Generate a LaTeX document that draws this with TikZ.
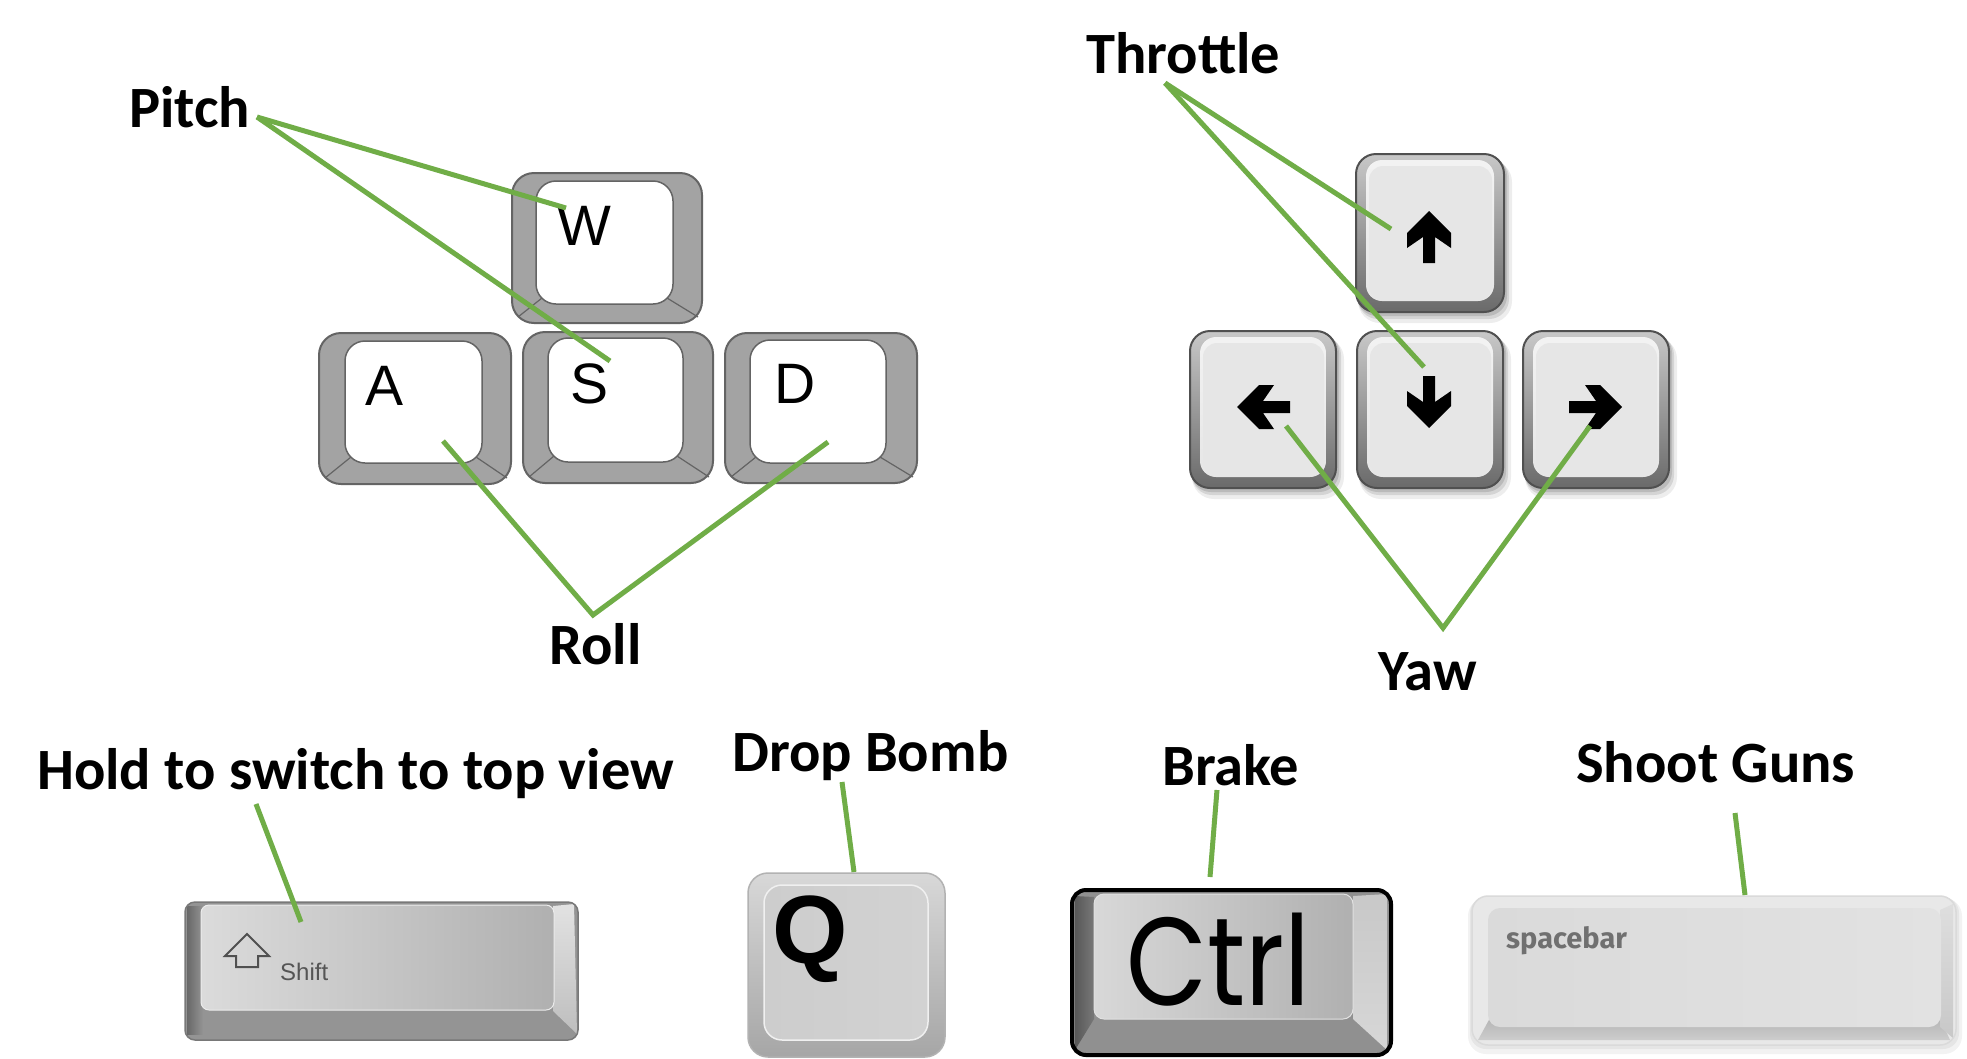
\documentclass[tikz,border=0pt]{standalone}
\usepackage{fontspec}
\setmainfont{Carlito}
\newfontfamily\arialfont{Liberation Sans}
\newfontfamily\ctrlfont{Poppins}
\newfontfamily\spfont{Fira Sans}
\definecolor{lineg}{HTML}{70AD47}
\definecolor{wgrey}{HTML}{A3A3A3}
\definecolor{wedge}{HTML}{646464}
\definecolor{akeytop}{HTML}{C8C8C8}
\definecolor{akeybot}{HTML}{6A6A6A}
\definecolor{akeyedge}{HTML}{505050}
\definecolor{aface}{HTML}{E6E6E6}
\tikzset{
  lbl/.style={font=\fontsize{58.5pt}{60pt}\selectfont\bfseries, inner sep=0pt, anchor=base west},
  keylet/.style={font=\arialfont\fontsize{57pt}{57pt}\selectfont, inner sep=0pt, anchor=base west},
  conn/.style={draw=lineg, line width=5pt},
  arrglyph/.style={fill=black},
}
\newcommand\wasdkey[8]{%
  \draw[fill=wgrey, draw=wedge, line width=2pt, rounded corners=22pt] (#1,#2) rectangle (#3,#4);
  \draw[wedge, line width=1.2pt] (#5+6,#8-6) -- (#1+6,#4-6);
  \draw[wedge, line width=1.2pt] (#7-6,#8-6) -- (#3-4,#4-6);
  \draw[fill=white, draw=wedge, line width=1.5pt, rounded corners=20pt] (#5,#6) rectangle (#7,#8);
}
\newcommand\arrkey[4]{%
  \fill[black, opacity=0.07, rounded corners=22pt] (#1+2,#2+6) rectangle (#3+8,#4+11);
  \fill[black, opacity=0.10, rounded corners=20pt] (#1+2,#2+4) rectangle (#3+5,#4+7);
  \fill[black, opacity=0.12, rounded corners=20pt] (#1+1,#2+2) rectangle (#3+3,#4+4);
  \shade[top color=akeytop, bottom color=akeybot, rounded corners=20pt] (#1,#2) rectangle (#3,#4);
  \draw[akeyedge, line width=2pt, rounded corners=20pt] (#1,#2) rectangle (#3,#4);
  \shade[top color=white!95!black, bottom color=aface, rounded corners=16pt] (#1+10,#2+6) rectangle (#3-10,#4-11);
  \fill[aface, rounded corners=14pt] (#1+13,#2+12) rectangle (#3-12,#4-13);
}
\begin{document}
\begin{tikzpicture}[x=1pt,y=-1pt]
\useasboundingbox[fill=white] (0,0) rectangle (1967,1058);

% ---------- WASD ----------
\wasdkey{512}{173}{702}{323}{536}{181}{673}{304}
\wasdkey{319}{333}{511}{484}{345}{341}{482}{463}
\wasdkey{523}{332}{713}{483}{548}{338}{683}{462}
\wasdkey{725}{333}{917}{483}{750}{340}{886}{463}
\node[keylet] (kW) at (557,245) {W};
\node[keylet] (kA) at (365,405) {A};
\node[keylet] (kS) at (570,403) {S};
\node[keylet] (kD) at (774,403) {D};

% ---------- arrow keys ----------
\arrkey{1356}{154}{1504}{312}
\arrkey{1190}{331}{1336}{488}
\arrkey{1357}{331}{1503}{488}
\arrkey{1523}{331}{1669}{488}
\fill[arrglyph] (1429,211) -- (1451,233) -- (1451,248) -- (1435,237) -- (1435,263) -- (1423,263) -- (1423,237) -- (1407,248) -- (1407,233) -- cycle;
\fill[arrglyph] (1429,428) -- (1451,406) -- (1451,391) -- (1435,402) -- (1435,376) -- (1423,376) -- (1423,402) -- (1407,391) -- (1407,406) -- cycle;
\fill[arrglyph] (1237,407) -- (1259,385) -- (1274,385) -- (1263,401) -- (1290,401) -- (1290,413) -- (1263,413) -- (1274,429) -- (1259,429) -- cycle;
\fill[arrglyph] (1622,407) -- (1600,385) -- (1585,385) -- (1596,401) -- (1569,401) -- (1569,413) -- (1596,413) -- (1585,429) -- (1600,429) -- cycle;

% ---------- Shift key ----------
\fill[color={rgb,255:red,148;green,148;blue,148}, rounded corners=10pt] (185,902) rectangle (578,1040);
\shade[left color={rgb,255:red,104;green,104;blue,104}, right color={rgb,255:red,148;green,148;blue,148}] (187,906) rectangle (203,1034);
\shade[top color={rgb,255:red,226;green,226;blue,226}, bottom color={rgb,255:red,190;green,190;blue,190}] (553,906) -- (574,904) -- (577,1034) -- (553,1011) -- cycle;
\draw[color={rgb,255:red,120;green,120;blue,120}, line width=1.5pt, rounded corners=10pt] (185,902) rectangle (578,1040);
\shade[left color={rgb,255:red,219;green,219;blue,219}, middle color={rgb,255:red,208;green,208;blue,208}, right color={rgb,255:red,176;green,176;blue,176}, rounded corners=8pt] (201,905) rectangle (554,1010);
\draw[color={rgb,255:red,236;green,236;blue,236}, line width=1pt, rounded corners=8pt] (201,905) rectangle (554,1010);
\draw[color={rgb,255:red,80;green,80;blue,80}, line width=2pt, line join=miter] (247,934) -- (269,956) -- (258,956) -- (258,967) -- (236,967) -- (236,956) -- (225,956) -- cycle;
\node[inner sep=0pt, anchor=base west, font=\arialfont\fontsize{24pt}{24pt}\selectfont, text={rgb,255:red,85;green,85;blue,85}] (kShift) at (280,980) {Shift};

% ---------- Q key ----------
\shade[top color={rgb,255:red,216;green,216;blue,216}, bottom color={rgb,255:red,166;green,166;blue,166}, rounded corners=20pt] (748,873) rectangle (945,1057);
\draw[color={rgb,255:red,178;green,178;blue,178}, line width=1.5pt, rounded corners=20pt] (748,873) rectangle (945,1057);
\shade[left color={rgb,255:red,205;green,205;blue,205}, middle color={rgb,255:red,232;green,232;blue,232}, right color={rgb,255:red,210;green,210;blue,210}, rounded corners=18pt] (764,885) rectangle (928,1040);
\draw[color={rgb,255:red,240;green,240;blue,240}, line width=1.5pt, rounded corners=18pt] (764,885) rectangle (928,1040);
\node[inner sep=0pt, anchor=base west, font=\arialfont\bfseries\fontsize{97pt}{97pt}\selectfont] (kQ) at (772,963) {Q};

% ---------- Ctrl key ----------
\fill[color={rgb,255:red,144;green,144;blue,144}, rounded corners=14pt] (1072,890) rectangle (1391,1055);
\shade[left color={rgb,255:red,88;green,88;blue,88}, right color={rgb,255:red,120;green,120;blue,120}] (1075,896) -- (1094,897) -- (1094,1019) -- (1075,1050) -- cycle;
\shade[top color={rgb,255:red,200;green,200;blue,200}, bottom color={rgb,255:red,215;green,215;blue,215}] (1353,896) -- (1387,894) -- (1387,1050) -- (1353,1019) -- cycle;
\draw[black, line width=4pt, rounded corners=14pt] (1072,890) rectangle (1391,1055);
\shade[left color={rgb,255:red,216;green,216;blue,216}, middle color={rgb,255:red,178;green,178;blue,178}, right color={rgb,255:red,176;green,176;blue,176}, rounded corners=10pt] (1094,894) rectangle (1353,1019);
\draw[color={rgb,255:red,225;green,225;blue,225}, line width=1pt, rounded corners=10pt] (1094,894) rectangle (1353,1019);
\node[inner sep=0pt, anchor=base west, font=\ctrlfont\fontsize{125pt}{125pt}\selectfont] (kCtrl) at (1126,1005) {\scalebox{0.84}[1]{Ctrl}};

% ---------- spacebar ----------
\fill[black, opacity=0.05, rounded corners=18pt] (1468,898) rectangle (1962,1054);
\fill[black, opacity=0.05, rounded corners=16pt] (1470,897) rectangle (1959,1049);
\fill[color={rgb,255:red,232;green,232;blue,232}, rounded corners=16pt] (1472,896) rectangle (1956,1045);
\shade[top color={rgb,255:red,180;green,180;blue,180}, bottom color={rgb,255:red,205;green,205;blue,205}] (1490,1018) -- (1940,1018) -- (1950,1040) -- (1478,1040) -- cycle;
\shade[top color={rgb,255:red,222;green,222;blue,222}, bottom color={rgb,255:red,200;green,200;blue,200}] (1940,910) -- (1953,904) -- (1953,1038) -- (1940,1027) -- cycle;
\draw[color={rgb,255:red,218;green,218;blue,218}, line width=1.5pt, rounded corners=16pt] (1472,896) rectangle (1956,1045);
\shade[left color={rgb,255:red,218;green,218;blue,218}, right color={rgb,255:red,226;green,226;blue,226}, rounded corners=12pt] (1488,908) rectangle (1941,1027);
\node[inner sep=0pt, anchor=base west, font=\spfont\bfseries\fontsize{29pt}{29pt}\selectfont, text={rgb,255:red,112;green,112;blue,112}] (kSpace) at (1506,948) {spacebar};

% ---------- labels ----------
\node[lbl] (pitch) at (129,127) {Pitch};
\node[lbl] (throttle) at (1086,73) {Throttle};
\node[lbl] (roll) at (549,664) {Roll};
\node[lbl] (yaw) at (1378,690) {Yaw};
\node[lbl] (hold) at (37,789) {Hold to switch to top view};
\node[lbl] (drop) at (732,771) {Drop Bomb};
\node[lbl] (brake) at (1162,785) {Brake};
\node[lbl] (shoot) at (1576,782) {Shoot Guns};

% ---------- connector points ----------
\coordinate (pitchO) at (257,117);
\coordinate (pW) at (566,208);
\coordinate (pS) at (610,361);
\coordinate (rollV) at (593,615);
\coordinate (rA) at (443,441);
\coordinate (rD) at (828,442);
\coordinate (thrO) at (1165,83);
\coordinate (tUp) at (1391,229);
\coordinate (tDown) at (1424,367);
\coordinate (yawV) at (1443,628);
\coordinate (yL) at (1286,426);
\coordinate (yR) at (1590,426);
\coordinate (holdO) at (256,804);
\coordinate (hShift) at (301,922);
\coordinate (dropO) at (842,782);
\coordinate (dQ) at (854,872);
\coordinate (brakeO) at (1217,790);
\coordinate (bCtrl) at (1210,877);
\coordinate (shootO) at (1735,813);
\coordinate (sSpace) at (1745,895);

\draw[conn] (pitchO) -- (pW);
\draw[conn] (pitchO) -- (pS);
\draw[conn] (rA) -- (rollV) -- (rD);
\draw[conn] (thrO) -- (tUp);
\draw[conn] (thrO) -- (tDown);
\draw[conn] (yL) -- (yawV) -- (yR);
\draw[conn] (holdO) -- (hShift);
\draw[conn] (dropO) -- (dQ);
\draw[conn] (brakeO) -- (bCtrl);
\draw[conn] (shootO) -- (sSpace);
\end{tikzpicture}
\end{document}
